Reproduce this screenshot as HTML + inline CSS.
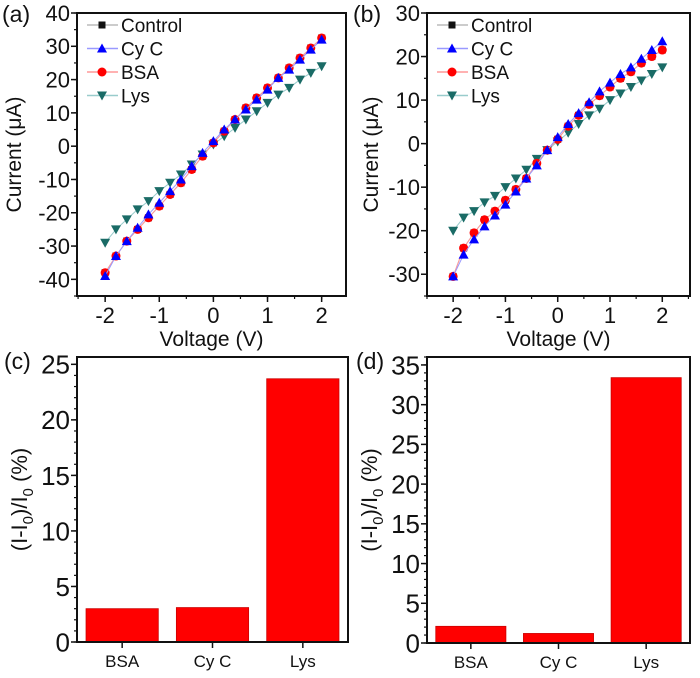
<!DOCTYPE html>
<html><head><meta charset="utf-8"><style>
body{margin:0;background:#fff;}
svg{display:block;font-family:"Liberation Sans",sans-serif;}
</style></head><body>
<svg id="fig" width="700" height="678" viewBox="0 0 700 678"></svg>
<script>
const volts=[-2,-1.8,-1.6,-1.4,-1.2,-1,-0.8,-0.6,-0.4,-0.2,0,0.2,0.4,0.6,0.8,1,1.2,1.4,1.6,1.8,2];
const aBSA=[-38,-33,-28.5,-25,-21.5,-18,-14.5,-11,-7,-3,1,4.5,8,11.5,14.5,17.5,20.5,23.5,26.5,29.5,32.5];
const aCyC=[-39,-33,-28.5,-24.5,-20.5,-17,-13.5,-10,-6,-2,1.5,5,8,11,14,17,20.5,23,26,29,32];
const aLys=[-29,-25,-22,-19,-16.5,-13.5,-11,-8.5,-5.5,-2.5,0.5,3,5.5,8,10.5,13,15.5,17.5,20,22,24];
const aCtrl=[-38,-33,-28.5,-25,-21.5,-18,-14.5,-11,-7,-3,1,4.5,8,11.5,14.5,17.5,20.5,23.5,26.5,29.5,32.5];
const bBSA=[-30.5,-24,-20.5,-17.5,-15.5,-13,-10.5,-8,-4.5,-1.5,1,4,6.5,9,11,13,15,16.5,18.5,20,21.5];
const bCyC=[-30.5,-25.5,-22,-19,-16.5,-14,-11,-8,-5,-1.5,1.5,4.5,7,9.5,12,14,16,17.5,19.5,21.5,23.5];
const bLys=[-20,-17,-15.5,-13.5,-12,-10,-8,-6,-3.5,-1.5,0.5,2.5,4.5,6.5,8,10,11.5,13,14.5,16,17.5];
const bCtrl=[-30.5,-24,-20.5,-17.5,-15.5,-13,-10.5,-8,-4.5,-1.5,1,4,6.5,9,11,13,15,16.5,18.5,20,21.5];
const barCats=["BSA","Cy C","Lys"];
const cVals=[3.0,3.1,23.7];
const dVals=[2.1,1.2,33.4];
const aYTicks=[-40,-30,-20,-10,0,10,20,30,40];
const bYTicks=[-30,-20,-10,0,10,20,30];
const xTicks=[-2,-1,0,1,2];
const cYTicks=[0,5,10,15,20,25];
const dYTicks=[0,5,10,15,20,25,30,35];

const NS="http://www.w3.org/2000/svg";
const svg=document.getElementById('fig');
function el(tag,attrs,parent,text){const e=document.createElementNS(NS,tag);for(const k in attrs)e.setAttribute(k,attrs[k]);if(text!==undefined)e.textContent=text;(parent||svg).appendChild(e);return e;}

function frame(g,L,R,T,B){
  const f=el('rect',{x:L,y:T,width:R-L,height:B-T,fill:'none',stroke:'#111','stroke-width':2},g);
  
  
}
function yAxis(g,L,ticks,sy,minorStep,ymin,ymax,fs){
  for(let v=ymin;v<=ymax+1e-9;v+=minorStep){const y=sy(v);el('line',{x1:L-3,x2:L,y1:y,y2:y,stroke:'#111','stroke-width':1.2},g);}
  ticks.forEach(v=>{const y=sy(v);el('line',{x1:L-6,x2:L,y1:y,y2:y,stroke:'#111','stroke-width':1.5},g);
    const t=el('text',{x:L-7,y:y+fs*0.36,'text-anchor':'end','font-size':fs,fill:'#111'},g,String(v));
    
    });
}
function ytitle(g,x,y,html,fs){
  const t=el('text',{x:x,y:y,'text-anchor':'middle','font-size':fs,fill:'#111',transform:`rotate(-90 ${x} ${y})`},g);
  t.innerHTML=html;
  
  
}
function panelLabel(g,x,y,s,fs){const t=el('text',{x:x,y:y,'font-size':fs,fill:'#111'},g,s);
  
  }

const seriesStyle=[
 {name:'Control',color:'#111',line:'#bbb',m:'sq'},
 {name:'Cy C',color:'#0000ff',line:'#9999ff',m:'up'},
 {name:'BSA',color:'#ff0000',line:'#ff9999',m:'ci'},
 {name:'Lys',color:'#1a6b66',line:'#99cccc',m:'dn'}];
function marker(g,type,x,y,c){
  if(type==='sq')return el('rect',{x:x-3.5,y:y-3.5,width:7,height:7,fill:c},g);
  if(type==='ci')return el('circle',{cx:x,cy:y,r:4.5,fill:c},g);
  if(type==='up')return el('polygon',{points:`${x},${y-5} ${x-5},${y+4} ${x+5},${y+4}`,fill:c},g);
  return el('polygon',{points:`${x},${y+5} ${x-5},${y-4} ${x+5},${y-4}`,fill:c},g);
}
function ivPanel(id,L,R,T,B,xmin,xmax,ymin,ymax,yticks,data,lbl,lblx,titleOff){
  const g=el('g',{});
  
  
  const sx=v=>L+(v-xmin)/(xmax-xmin)*(R-L);
  const sy=v=>B-(v-ymin)/(ymax-ymin)*(B-T);
  frame(g,L,R,T,B);
  yAxis(g,L,yticks,sy,5,yticks[0]-5>=ymin?yticks[0]-5:yticks[0],ymax,22);
  for(let v=-2.5;v<=2.5;v+=0.5){if(v<xmin-1e-9||v>xmax+1e-9)continue;const x=sx(v);el('line',{x1:x,x2:x,y1:B,y2:B+3,stroke:'#111','stroke-width':1.2},g);}
  xTicks.forEach(v=>{const x=sx(v);el('line',{x1:x,x2:x,y1:B,y2:B+6,stroke:'#111','stroke-width':1.5},g);
    const t=el('text',{x:x,y:B+27,'text-anchor':'middle','font-size':22,fill:'#111'},g,String(v));
    
    });
  const xt=el('text',{x:(L+R)/2,y:B+50,'text-anchor':'middle','font-size':21,fill:'#111'},g,'Voltage (V)');
  
  
  ytitle(g,L-titleOff,(T+B)/2,'Current (μA)',21);
  panelLabel(g,lblx,22,lbl,23);
  const order=[0,3,2,1];
  order.forEach(i=>{const s=seriesStyle[i],vals=data[i];
    const sg=el('g',{},g);
    
    
    el('polyline',{points:volts.map((v,j)=>sx(v)+','+sy(vals[j])).join(' '),fill:'none',stroke:s.line,'stroke-width':1},sg);
    volts.forEach((v,j)=>{const m=marker(sg,s.m,sx(v),sy(vals[j]),s.color);
      
      });
  });
  seriesStyle.forEach((s,i)=>{const y=T+12+i*23.5;
    const lg=el('g',{},g);
    
    
    el('line',{x1:L+10,x2:L+41,y1:y,y2:y,stroke:s.line,'stroke-width':1.5},lg);
    marker(lg,s.m,L+25,y,s.color);
    el('text',{x:L+44,y:y+7,'font-size':19,fill:'#111'},lg,s.name);
  });
}
ivPanel('panel-a',77,346,13,296,-2.52,2.45,-45,40,aYTicks,[aCtrl,aCyC,aBSA,aLys],'(a)',2,56);
ivPanel('panel-b',427,690,13,296,-2.5,2.53,-35,30,bYTicks,[bCtrl,bCyC,bBSA,bLys],'(b)',353,49);

function barPanel(id,L,R,T,B,ymax,yticks,vals,lbl,lblx){
  const g=el('g',{});
  
  
  const sy=v=>B-v/ymax*(B-T);
  const band=(R-L)/barCats.length;
  barCats.forEach((c,i)=>{const x0=L+band*i+band*0.1,w=band*0.8,y=sy(vals[i]);
    const r=el('rect',{x:x0,y:y,width:w,height:B-y,fill:'#ff0000',stroke:'#c00','stroke-width':0.8},g);
    
    
    const cx=L+band*(i+0.5);
    el('line',{x1:cx,x2:cx,y1:B,y2:B+6,stroke:'#111','stroke-width':1.5},g);
    const t=el('text',{x:cx,y:B+25,'text-anchor':'middle','font-size':17,fill:'#111'},g,c);
    
    
  });
  frame(g,L,R,T,B);
  yAxis(g,L,yticks,sy,1,0,Math.floor(ymax),26);
  ytitle(g,L-50,(T+B)/2,'(I-I<tspan font-size="15" dy="6">0</tspan><tspan dy="-6">)/I</tspan><tspan font-size="15" dy="6">0</tspan><tspan dy="-6"> (%)</tspan>',22);
  panelLabel(g,lblx,369,lbl,23);
}
barPanel('panel-c',77,348,357,642,25.66,cYTicks,cVals,'(c)',4);
barPanel('panel-d',427,690,357,643,36.0,dYTicks,dVals,'(d)',356);
</script>
</body></html>
